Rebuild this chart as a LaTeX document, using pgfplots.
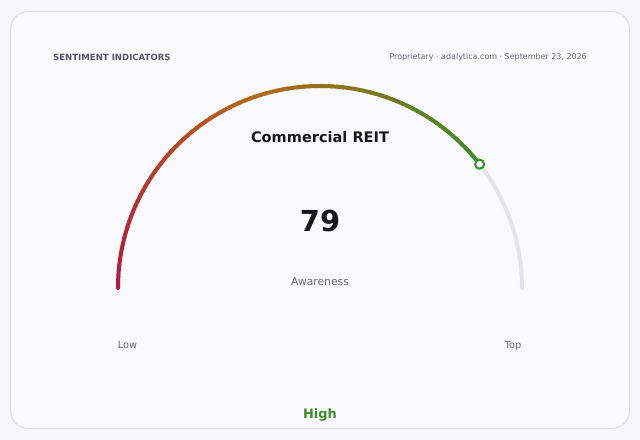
\documentclass[border=0pt]{standalone}
\usepackage{pgfplots}
\pgfplotsset{compat=1.18}
\usetikzlibrary{calc}
\usepackage{fontspec}
\setmainfont{DejaVu Sans}

\definecolor{pagebg}{HTML}{F7F7FB}
\definecolor{cardbg}{HTML}{FAFAFE}
\definecolor{cardline}{HTML}{DCDCE6}
\definecolor{track}{HTML}{E4E4E8}
\definecolor{lowc}{HTML}{B5173F}
\definecolor{midc}{HTML}{B4681A}
\definecolor{highc}{HTML}{3E8B2A}
\definecolor{headc}{HTML}{555566}
\definecolor{subc}{HTML}{666677}
\definecolor{labc}{HTML}{666666}

% gauge value (0-100)
\def\gaugevalue{79}

\begin{document}
\begin{tikzpicture}
\begin{axis}[
    width=640bp, height=440bp,
    scale only axis,
    xmin=0, xmax=640, ymin=0, ymax=440,
    y dir=reverse,
    hide axis,
    clip=false,
]
% page and card
\fill[pagebg] (axis cs:0,0) rectangle (axis cs:640,440);
\draw[cardline, fill=cardbg, line width=1bp, rounded corners=18bp]
    (axis cs:10.5,11.5) rectangle (axis cs:629.5,428.5);
\coordinate (ctr) at (axis cs:320,288);

% header
\node[anchor=west, inner sep=0pt, font=\bfseries\fontsize{8.6}{10}\selectfont, text=headc]
    at (axis cs:53,57.5) {SENTIMENT INDICATORS};
\node[anchor=east, inner sep=0pt, font=\fontsize{8}{9}\selectfont, text=subc]
    at (axis cs:587,57.5) {Proprietary · adalytica.com · September 23, 2026};

% centre texts
\node[font=\bfseries\fontsize{14.6}{16}\selectfont, text=black!90]
    at (axis cs:320,137) {Commercial REIT};
\node[font=\bfseries\fontsize{29}{32}\selectfont, text=black!90]
    at (axis cs:320,221) {\gaugevalue};
\node[font=\fontsize{10.8}{12}\selectfont, text=labc]
    at (axis cs:320,281.5) {Awareness};
\node[font=\fontsize{9.8}{11}\selectfont, text=labc]
    at (axis cs:127.5,345.5) {Low};
\node[font=\fontsize{9.8}{11}\selectfont, text=labc]
    at (axis cs:513,345.5) {Top};
\node[font=\bfseries\fontsize{13}{14}\selectfont, text=highc]
    at (axis cs:320,414.5) {High};
\end{axis}

% gauge arc: grey track, then gradient segments up to the value
\pgfmathsetmacro{\endang}{180-1.8*\gaugevalue}
\draw[track, line width=4bp, line cap=round]
    ($(ctr)+(\endang:202bp)$) arc[start angle=\endang, end angle=0, radius=202bp];
\foreach \i in {0,...,89}{
    \pgfmathsetmacro{\aa}{180-(180-\endang)*\i/90}
    \pgfmathsetmacro{\ab}{180-(180-\endang)*(\i+1)/90-0.4}
    \pgfmathsetmacro{\f}{\i/89}
    \ifdim\f pt<0.5pt
        \pgfmathsetmacro{\p}{100*\f/0.5}
        \colorlet{segc}{midc!\p!lowc}
    \else
        \pgfmathsetmacro{\p}{100*(\f-0.5)/0.5}
        \colorlet{segc}{highc!\p!midc}
    \fi
    \draw[segc, line width=4bp, line cap=butt]
        ($(ctr)+(\aa:202bp)$) arc[start angle=\aa, end angle=\ab, radius=202bp];
}
\fill[lowc] ($(ctr)+(180:202bp)$) circle (2bp);

% value marker, placed through the axis from the value
\begin{axis}[
    width=640bp, height=440bp,
    scale only axis,
    xmin=0, xmax=640, ymin=0, ymax=440,
    y dir=reverse,
    hide axis,
    clip=false,
]
\addplot[only marks, mark=*, mark size=4.5bp,
    mark options={draw=highc, fill=white, line width=2bp}]
    table[x expr={320+202*cos(180-1.8*\thisrow{value})},
          y expr={288-202*sin(180-1.8*\thisrow{value})}] {
value
79
};
\end{axis}
\end{tikzpicture}
\end{document}
